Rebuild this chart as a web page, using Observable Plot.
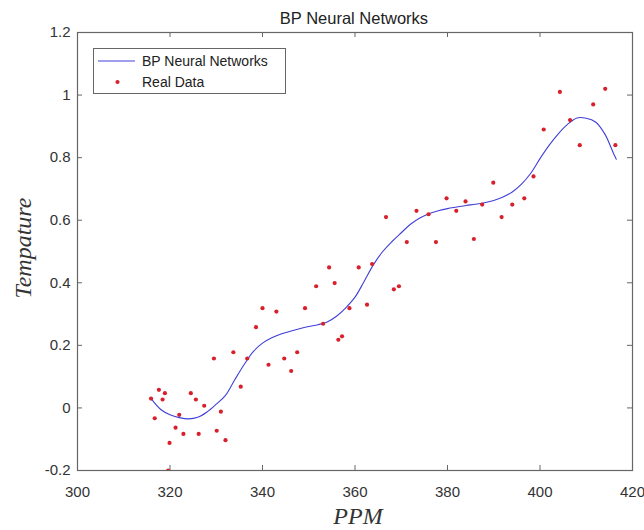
<!DOCTYPE html>
<html>
<head>
<meta charset="utf-8">
<script src="https://cdn.jsdelivr.net/npm/d3@7"></script>
<script src="https://cdn.jsdelivr.net/npm/@observablehq/plot@0.6"></script>
<style>
  html, body { margin: 0; padding: 0; background: #fff; }
  #chart { width: 644px; height: 530px; }
</style>
</head>
<body>
<div id="chart"></div>
<script>
// ---- Data ----
const realPPM = [315.9, 316.7, 317.6, 318.4, 318.9, 319.6, 319.9, 321.2, 322.0, 322.9,
  324.5, 325.6, 326.2, 327.4, 329.5, 330.1, 331.0, 332.0, 333.7, 335.3,
  336.7, 338.6, 340.0, 341.3, 343.0, 344.7, 346.2, 347.5, 349.2, 351.6,
  353.1, 354.4, 355.6, 356.4, 357.2, 358.8, 360.8, 362.6, 363.7, 366.7,
  368.4, 369.5, 371.2, 373.3, 375.9, 377.5, 379.8, 381.9, 383.9, 385.7,
  387.5, 389.9, 391.7, 394.0, 396.6, 398.6, 400.8, 404.3, 406.5, 408.6,
  411.5, 414.1, 416.3];
const realTemp = [0.03, -0.033, 0.058, 0.027, 0.047, -0.2, -0.112, -0.063, -0.022, -0.083,
  0.047, 0.027, -0.083, 0.007, 0.158, -0.073, -0.012, -0.103, 0.178, 0.068,
  0.158, 0.258, 0.319, 0.138, 0.308, 0.158, 0.118, 0.178, 0.319, 0.389,
  0.269, 0.449, 0.399, 0.218, 0.229, 0.319, 0.449, 0.33, 0.46, 0.61,
  0.379, 0.389, 0.53, 0.63, 0.619, 0.53, 0.67, 0.63, 0.66, 0.54,
  0.65, 0.72, 0.61, 0.65, 0.67, 0.74, 0.89, 1.01, 0.92, 0.84,
  0.97, 1.02, 0.84];

const bpPPM = [316, 318, 320, 322, 324, 326, 328, 330, 332, 334, 336, 338, 340, 342, 344, 346,
  348, 350, 352, 354, 356, 358, 360, 362, 364, 366, 368, 370, 372, 374, 376, 378, 380, 382,
  384, 386, 388, 390, 392, 394, 396, 398, 400, 402, 404, 406, 408, 410, 412, 414, 416, 416.5];
const bpTemp = [0.028, -0.005, -0.022, -0.031, -0.035, -0.03, -0.013, 0.012, 0.04, 0.09, 0.138,
  0.18, 0.207, 0.224, 0.236, 0.245, 0.253, 0.26, 0.266, 0.275, 0.293, 0.32, 0.354, 0.405,
  0.458, 0.5, 0.532, 0.56, 0.587, 0.607, 0.621, 0.63, 0.637, 0.642, 0.647, 0.651, 0.656,
  0.663, 0.674, 0.69, 0.715, 0.75, 0.797, 0.84, 0.877, 0.907, 0.927, 0.926, 0.914, 0.876,
  0.81, 0.795];

const xTicks = [300, 320, 340, 360, 380, 400, 420];
const yTicks = [-0.2, 0, 0.2, 0.4, 0.6, 0.8, 1, 1.2];

const titleText = "BP Neural Networks";
const xLabel = "PPM";
const yLabel = "Tempature";
const legendLabels = ["BP Neural Networks", "Real Data"];

// ---- Build tables ----
const realData = realPPM.map((x, i) => ({x, y: realTemp[i]}));
const bpData = bpPPM.map((x, i) => ({x, y: bpTemp[i]}));

const W = 644, H = 530;
const mL = 77, mR = 12, mT = 32, mB = 60;
const plotW = W - mL - mR, plotH = H - mT - mB;
const tick = 5;
const lineColor = "#4040d8";
const dotColor = "#d8202c";
const axisColor = "#666";
const sans = "'Liberation Sans', Arial, sans-serif";
const serif = "'Liberation Serif', 'Times New Roman', serif";

const plot = Plot.plot({
  width: W,
  height: H,
  marginLeft: mL,
  marginRight: mR,
  marginTop: mT,
  marginBottom: mB,
  style: {fontFamily: sans, fontSize: "15px", color: "#333", background: "#fff"},
  x: {domain: [300, 420], ticks: xTicks},
  y: {domain: [-0.2, 1.2], ticks: yTicks},
  marks: [
    Plot.axisX({ticks: xTicks, tickSize: 0, tickPadding: 16, label: null, fontSize: 15, fill: "#333"}),
    Plot.axisY({ticks: yTicks, tickSize: 0, tickPadding: 7, label: null, fontSize: 15, fill: "#333",
      tickFormat: d => `${Math.round(d * 10) / 10}`}),
    // inward ticks on all four sides
    Plot.tickX(xTicks, {x: d => d, insetTop: plotH - tick, stroke: axisColor}),
    Plot.tickX(xTicks, {x: d => d, insetBottom: plotH - tick, stroke: axisColor}),
    Plot.tickY(yTicks, {y: d => d, insetRight: plotW - tick, stroke: axisColor}),
    Plot.tickY(yTicks, {y: d => d, insetLeft: plotW - tick, stroke: axisColor}),
    Plot.frame({stroke: axisColor, strokeWidth: 1.2}),
    Plot.line(bpData, {x: "x", y: "y", stroke: lineColor, strokeWidth: 1.1, curve: "catmull-rom"}),
    Plot.dot(realData, {x: "x", y: "y", r: 2.1, fill: dotColor, stroke: "none", clip: true})
  ]
});

document.getElementById("chart").appendChild(plot);

// ---- Title, axis labels and legend ----
const svg = d3.select(plot);
svg.append("text")
  .attr("x", 354).attr("y", 24)
  .attr("text-anchor", "middle")
  .attr("font-family", sans)
  .attr("font-size", 16.5).attr("fill", "#222")
  .text(titleText);

svg.append("text")
  .attr("x", 358).attr("y", 524)
  .attr("text-anchor", "middle")
  .attr("font-family", serif)
  .attr("font-style", "italic")
  .attr("font-size", 24).attr("fill", "#333")
  .text(xLabel);

svg.append("text")
  .attr("transform", "translate(31,248) rotate(-90)")
  .attr("text-anchor", "middle")
  .attr("font-family", serif)
  .attr("font-style", "italic")
  .attr("font-size", 24).attr("fill", "#333")
  .text(yLabel);

const lg = svg.append("g");
lg.append("rect")
  .attr("x", 93.5).attr("y", 48.5).attr("width", 192).attr("height", 45)
  .attr("fill", "#fff").attr("stroke", "#666").attr("stroke-width", 1);
lg.append("line")
  .attr("x1", 98).attr("x2", 135).attr("y1", 61).attr("y2", 61)
  .attr("stroke", lineColor).attr("stroke-width", 1.1);
lg.append("circle")
  .attr("cx", 117.5).attr("cy", 82).attr("r", 2.1).attr("fill", dotColor);
lg.selectAll("text.lbl").data(legendLabels).join("text")
  .attr("class", "lbl")
  .attr("x", 142).attr("y", (d, i) => 66 + i * 21)
  .attr("text-anchor", "start")
  .attr("font-family", sans)
  .attr("font-size", 14).attr("fill", "#222")
  .text(d => d);
</script>
</body>
</html>
